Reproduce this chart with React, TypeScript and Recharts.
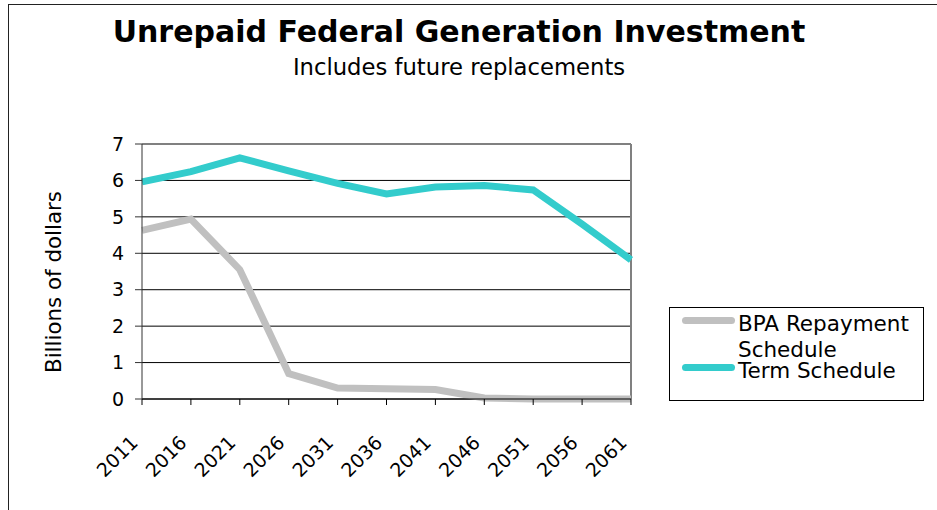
import React from 'react';
import { LineChart, Line, XAxis, YAxis, CartesianGrid, ReferenceLine, Legend } from 'recharts';

// years on the category axis
const years = ['2011', '2016', '2021', '2026', '2031', '2036', '2041', '2046', '2051', '2056', '2061'];
// billions of dollars
const bpaRepayment = [4.63, 4.94, 3.55, 0.7, 0.3, 0.28, 0.26, 0.03, 0, 0, 0];
const termSchedule = [5.96, 6.24, 6.62, 6.26, 5.92, 5.63, 5.82, 5.86, 5.74, 4.8, 3.82];
const yTicks = [0, 1, 2, 3, 4, 5, 6, 7];

const data = years.map((year, i) => ({
    year,
    bpa: bpaRepayment[i],
    term: termSchedule[i],
}));

const FONT = '"DejaVu Sans", Verdana, sans-serif';

const XTick = (props: any) => {
    const { x, y, payload } = props;
    return (
        <g transform={`translate(${x - 3},${y + 37})`}>
            <text textAnchor="end" transform="rotate(-45)" fontSize={19} fill="#000" fontFamily={FONT}>
                {payload.value}
            </text>
        </g>
    );
};

const YLabel = () => (
    <text x={61} y={282} transform="rotate(-90 61 282)" textAnchor="middle" fontSize={21.4} fill="#000" fontFamily={FONT}>
        Billions of dollars
    </text>
);

const LegendBox = (props: any) => {
    const { payload } = props;
    return (
        <div style={{
            width: 255, height: 94, border: '1px solid #000', boxSizing: 'border-box',
            fontFamily: FONT, fontSize: 21.5, color: '#000', background: '#fff', paddingTop: 2.5,
        }}>
            {payload.map((p: any, i: number) => (
                <div key={p.value} style={{ display: 'flex', alignItems: 'flex-start', lineHeight: '26px', marginTop: i > 0 ? -5 : 0 }}>
                    <div style={{ width: 53, height: 7, borderRadius: 4, background: p.color, marginLeft: 12, marginTop: 6, flexShrink: 0 }} />
                    <div style={{ marginLeft: 3, width: 180 }}>{p.value}</div>
                </div>
            ))}
        </div>
    );
};

export default function App() {
    return (
        <div style={{ position: 'absolute', left: 0, top: 0, width: 937, height: 510, overflow: 'hidden', background: '#fff' }}>
            <div style={{ position: 'absolute', left: 8, top: 4, width: 960, height: 560, border: '1px solid #222' }} />
            <div style={{ position: 'absolute', left: 0, width: 918, top: 17, lineHeight: '30px', textAlign: 'center', fontFamily: FONT, fontWeight: 'bold', fontSize: 30, color: '#000' }}>
                Unrepaid Federal Generation Investment
            </div>
            <div style={{ position: 'absolute', left: 0, width: 918, top: 56, lineHeight: '22px', textAlign: 'center', fontFamily: FONT, fontSize: 22.7, color: '#000' }}>
                Includes future replacements
            </div>
            <div style={{ position: 'absolute', left: 0, top: 0 }}>
                <LineChart width={937} height={510} data={data} margin={{ top: 144, right: 306, bottom: 31, left: 82 }}>
                    <CartesianGrid vertical={false} stroke="#000" strokeWidth={1} />
                    <XAxis
                        dataKey="year"
                        interval={0}
                        height={80}
                        tick={<XTick />}
                        tickSize={6}
                        axisLine={{ stroke: '#000' }}
                        tickLine={{ stroke: '#000' }}
                    />
                    <YAxis
                        domain={[0, 7]}
                        ticks={yTicks}
                        interval={0}
                        width={60}
                        tickSize={7}
                        tick={{ fontSize: 19, fill: '#000', fontFamily: FONT, dx: -9 }}
                        axisLine={{ stroke: '#333' }}
                        tickLine={{ stroke: '#333' }}
                        label={<YLabel />}
                    />
                    <ReferenceLine y={7} stroke="#808080" strokeWidth={2} />
                    <ReferenceLine x="2061" stroke="#808080" strokeWidth={2} />
                    <Line dataKey="bpa" name="BPA Repayment Schedule" stroke="#c0c0c0" strokeWidth={7} dot={false} isAnimationActive={false} />
                    <Line dataKey="term" name="Term Schedule" stroke="#33cccc" strokeWidth={7} dot={false} isAnimationActive={false} />
                    <Legend
                        layout="vertical"
                        verticalAlign="middle"
                        align="center"
                        content={<LegendBox />}
                        wrapperStyle={{ position: 'absolute', left: 669, top: 307, width: 255 }}
                    />
                </LineChart>
            </div>
        </div>
    );
}
